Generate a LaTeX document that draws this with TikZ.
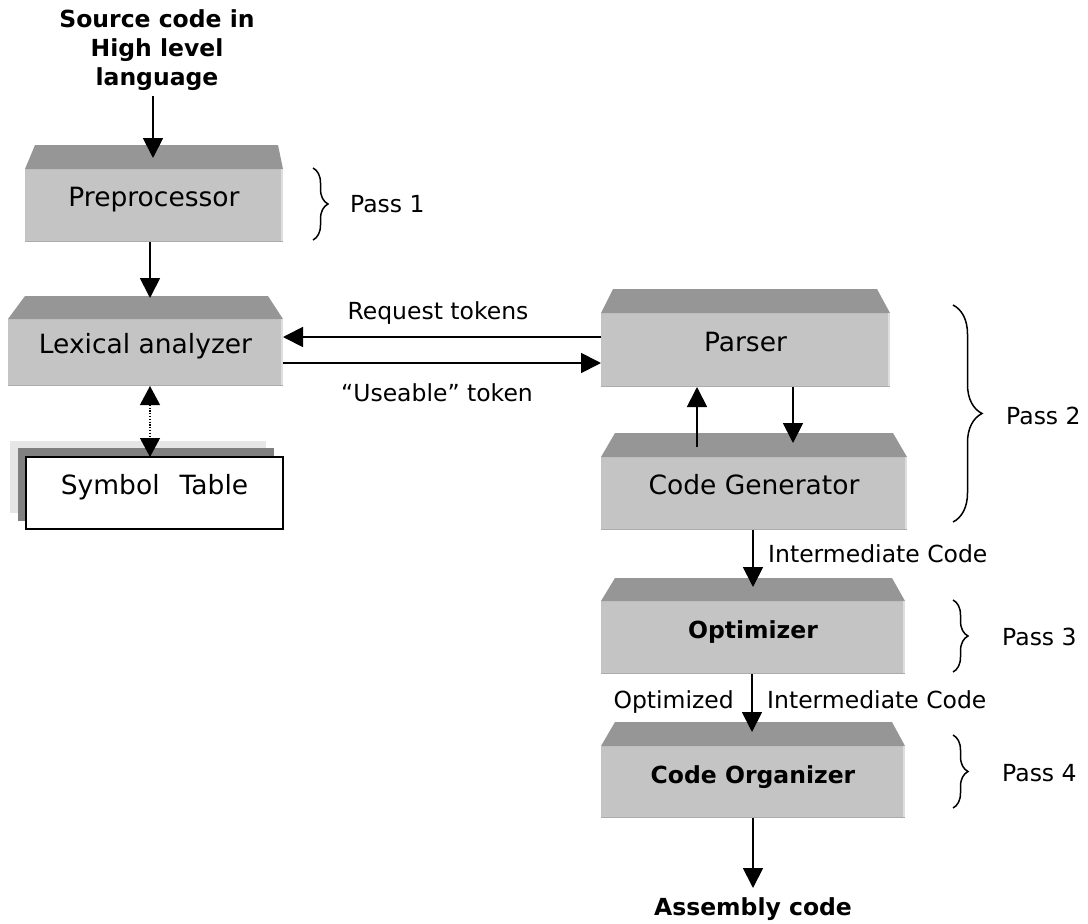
\documentclass[tikz,border=0pt]{standalone}
\usepackage{fontspec}
\setmainfont{DejaVu Sans}
\usetikzlibrary{arrows.meta,decorations.pathreplacing,calc}

\definecolor{facegray}{RGB}{150,150,150}
\definecolor{bodygray}{RGB}{196,196,196}
\definecolor{edgelight}{RGB}{222,222,222}
\definecolor{edgedark}{RGB}{172,172,172}
\definecolor{stackfront}{RGB}{128,128,128}
\definecolor{stackback}{RGB}{230,230,230}

\newcommand{\boxfont}{\fontsize{26.5}{31}\selectfont}
\newcommand{\boxboldfont}{\fontsize{23.5}{28}\selectfont\bfseries}
\newcommand{\lblfont}{\fontsize{23.5}{29}\selectfont}
\newcommand{\titlefont}{\fontsize{23.5}{29}\selectfont\bfseries}

% bevelled lid above a stage box: node, left inset, right inset, lid height
\newcommand{\topface}[4]{%
  \fill[facegray] (#1.north west) -- ([xshift=#2pt,yshift=#4pt]#1.north west)
    -- ([xshift=-#3pt,yshift=#4pt]#1.north east) -- (#1.north east) -- cycle;
  \draw[edgelight, line width=2pt] ([xshift=-1pt]#1.north east) -- ([xshift=-1pt]#1.south east);
  \draw[edgedark, line width=1.5pt] ([yshift=0.75pt]#1.south west) -- ([yshift=0.75pt]#1.south east);
}

\tikzset{
  stage/.style={fill=bodygray, inner sep=0pt, outer sep=0pt,
    text height=19pt, text depth=17pt, font=\boxfont},
  boldstage/.style={font=\boxboldfont},
  lbl/.style={inner sep=0pt, font=\lblfont},
  title/.style={inner sep=0pt, font=\titlefont, align=center},
  arr/.style={line width=1.8pt, -{Triangle[length=20pt,width=20pt]}},
  darr/.style={line width=1.2pt, dash pattern=on 1.2pt off 1.6pt,
    {Triangle[length=19pt,width=20pt]}-{Triangle[length=19pt,width=20pt]}},
  passbrace/.style={decorate, line width=1.5pt},
}

\begin{document}
\begin{tikzpicture}[x=1pt,y=-1pt]
\useasboundingbox (0,0) rectangle (1088,924);

% input text
\node[title, anchor=north] (src) at (157,9) {Source code in\\High level\\language};

% stage boxes
\node[stage, minimum width=258pt, minimum height=73pt] (pre) at (154,205.5) {Preprocessor};
\topface{pre}{10}{5}{24}
\node[stage, minimum width=275pt, minimum height=67pt] (lex) at (145.5,352.5) {Lexical analyzer};
\topface{lex}{17}{15}{23}
\node[stage, minimum width=289pt, minimum height=74pt] (par) at (745.5,350) {Parser};
\topface{par}{12}{13}{24}
\node[stage, minimum width=306pt, minimum height=73pt] (gen) at (754,493.5) {Code Generator};
\topface{gen}{14}{14}{24}
\node[stage, boldstage, minimum width=304pt, minimum height=73pt] (opt) at (753,637.5) {Optimizer};
\topface{opt}{14}{13}{23}
\node[stage, boldstage, minimum width=304pt, minimum height=72pt] (org) at (753,782) {Code Organizer};
\topface{org}{14}{13}{24}

% symbol table with stacked sheets behind
\fill[stackback] (10,441) rectangle (266,513);
\fill[stackfront] (18,448) rectangle (274,521);
\node[draw=black, line width=2pt, fill=white, minimum width=257pt, minimum height=72pt,
  text height=19pt, text depth=17pt, font=\boxfont, inner sep=0pt, outer sep=0pt]
  (sym) at (154.5,493) {Symbol\hspace{20pt}Table};

% arrow end points
\coordinate (pre-in) at (153,158);
\coordinate (lex-in) at (150,298);
\coordinate (gen-up) at (697,447);
\coordinate (gen-in) at (793,443);
\coordinate (opt-in) at (753,587);
\coordinate (org-in) at (752,732);
\coordinate (asm-in) at (753,888);
\coordinate (rq) at ([yshift=13pt]par.west);
\coordinate (ut) at ([yshift=-13pt]par.west);

% connectors
\draw[arr, shorten <=6pt] (src.south -| pre-in) -- (pre-in);
\draw[arr] (pre.south -| lex-in) -- (lex-in);
\draw[darr] (lex.south -| lex-in) -- (sym.north -| lex-in);
\draw[arr] (rq) -- (rq -| lex.east);
\draw[arr] (ut -| lex.east) -- (ut);
\draw[arr] (gen-up) -- (gen-up |- par.south);
\draw[arr] (gen-in |- par.south) -- (gen-in);
\draw[arr] (gen.south -| opt-in) -- (opt-in);
\draw[arr] (opt.south -| org-in) -- (org-in);
\draw[arr] (org.south -| asm-in) -- (asm-in);

% connector labels
\node[lbl, anchor=base] (rqlbl) at (438,319) {Request tokens};
\node[lbl, anchor=base] (utlbl) at (437,401) {“Useable” token};
\node[lbl, anchor=base west] (ic1) at (768,562) {Intermediate Code};
\node[lbl, anchor=base east] (oplbl) at (734,708) {Optimized};
\node[lbl, anchor=base west] (ic2) at (767,708) {Intermediate Code};
\node[title, anchor=base] (asm) at (753,915) {Assembly code};

% passes
\draw[passbrace, decoration={brace, amplitude=15pt}] (313,168) -- (313,240);
\node[lbl, anchor=base west] (p1) at (350,212) {Pass 1};
\draw[passbrace, decoration={brace, amplitude=29pt}] (953,305) -- (953,522);
\node[lbl, anchor=base west] (p2) at (1006,424) {Pass 2};
\draw[passbrace, decoration={brace, amplitude=15pt}] (953,600) -- (953,672);
\node[lbl, anchor=base west] (p3) at (1002,645) {Pass 3};
\draw[passbrace, decoration={brace, amplitude=15pt}] (953,735) -- (953,808);
\node[lbl, anchor=base west] (p4) at (1002,781) {Pass 4};
\end{tikzpicture}
\end{document}
